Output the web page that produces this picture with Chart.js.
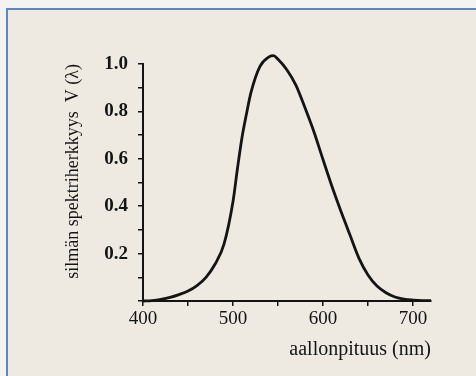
<!DOCTYPE html>
<html>
<head>
<meta charset="utf-8">
<script src="https://cdn.jsdelivr.net/npm/chart.js@4/dist/chart.umd.min.js"></script>
<style>
html,body{margin:0;padding:0;background:#f3f3f1;}
#wrap{width:476px;height:376px;position:relative;}
</style>
</head>
<body>
<div id="wrap"><canvas id="c" width="476" height="376"></canvas></div>
<script>
// Wavelength (nm) and relative eye sensitivity V(λ)
const wavelengths = [400,410,420,430,440,450,460,470,480,490,500,505,510,515,520,530,540,545,550,560,570,580,590,600,610,620,630,640,650,660,670,680,690,700,710,720];
const sensitivity = [0,0.002,0.007,0.015,0.027,0.042,0.065,0.10,0.155,0.24,0.42,0.56,0.69,0.79,0.88,0.99,1.03,1.035,1.02,0.975,0.91,0.815,0.713,0.597,0.483,0.378,0.278,0.18,0.11,0.063,0.035,0.017,0.008,0.004,0.002,0.002];
const xTicks = [400,450,500,550,600,650,700];
const xLabels = {400:'400',500:'500',600:'600',700:'700'};
const yTicks = [0,0.1,0.2,0.3,0.4,0.5,0.6,0.7,0.8,0.9,1.0];
const yLabels = {0.2:'0.2',0.4:'0.4',0.6:'0.6',0.8:'0.8',1:'1.0'};
const xTitle = 'aallonpituus (nm)';
const yTitle = 'silmän spektriherkkyys  V (λ)';

const paper = {
  id:'paper',
  beforeDraw(chart){
    const c = chart.ctx;
    c.save();
    c.fillStyle='#f3f3f1'; c.fillRect(0,0,476,376);
    c.fillStyle='#eeeae2'; c.fillRect(8,9,468,367);
    c.fillStyle='#5b87c2';
    c.fillRect(6,8,2,368);
    c.fillRect(6,8,470,2);
    c.restore();
  }
};

const ink = '#141414';
new Chart(document.getElementById('c'), {
  type:'line',
  data:{
    datasets:[{
      data: wavelengths.map((w,i)=>({x:w,y:sensitivity[i]})),
      borderColor: ink,
      borderWidth: 2.8,
      pointRadius: 0,
      fill: false,
      cubicInterpolationMode: 'monotone',
      clip: false
    }]
  },
  options:{
    responsive:false,
    animation:false,
    layout:{padding:{top:64,right:45,left:58,bottom:10}},
    plugins:{legend:{display:false},tooltip:{enabled:false}},
    scales:{
      x:{
        type:'linear', min:400, max:720,
        afterBuildTicks(s){ s.ticks = xTicks.map(v=>({value:v})); },
        afterFit(s){ s.height = 65; },
        grid:{drawOnChartArea:false, drawTicks:true, tickLength:5, color:ink, lineWidth:1.5},
        border:{display:true, color:ink, width:2},
        ticks:{
          autoSkip:false, maxRotation:0, padding:2, color:'#141414',
          font:{family:'Liberation Serif', size:19},
          callback:(v)=> xLabels[v] || ''
        },
        title:{display:true, text:xTitle, align:'end', color:'#141414',
          font:{family:'Liberation Serif', size:20}, padding:{top:4,bottom:4}}
      },
      y:{
        type:'linear', min:0, max:1.0,
        afterBuildTicks(s){ s.ticks = yTicks.map(v=>({value:v})); },
        afterFit(s){ s.width = 85; },
        grid:{drawOnChartArea:false, drawTicks:true, tickLength:5, color:ink, lineWidth:1.5},
        border:{display:true, color:ink, width:2},
        ticks:{
          autoSkip:false, padding:10, color:'#141414',
          font:{family:'Liberation Serif', size:19, weight:'bold'},
          callback:(v)=> yLabels[Math.round(v*10)/10] || ''
        },
        title:{display:true, text:yTitle, align:'end', color:'#141414',
          font:{family:'Liberation Serif', size:18}, padding:{top:4,bottom:4}}
      }
    }
  },
  plugins:[paper]
});
</script>
</body>
</html>
